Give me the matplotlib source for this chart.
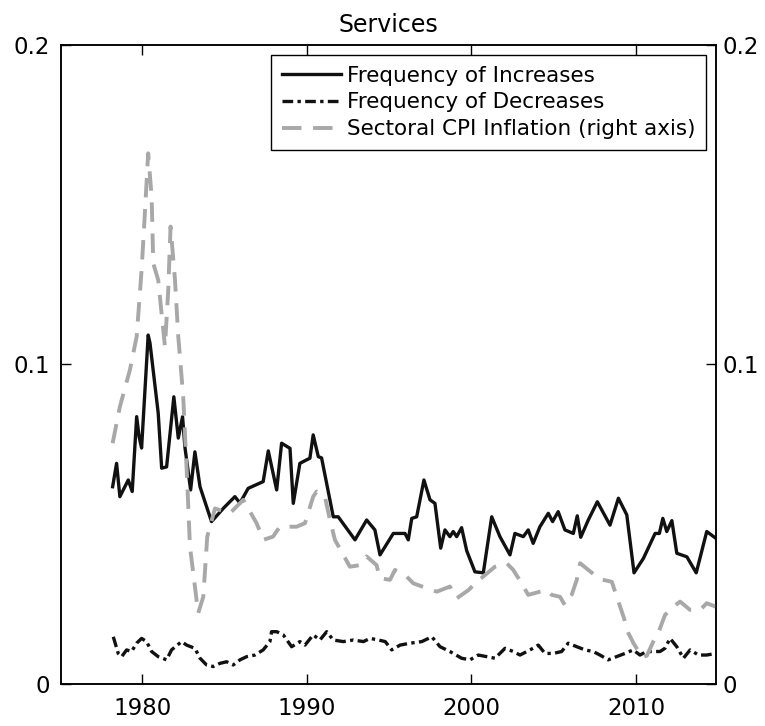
import numpy as np
import matplotlib
matplotlib.use("Agg")
import matplotlib.pyplot as plt

plt.rcParams.update({"font.family": "DejaVu Sans", "font.size": 16})

# frequency of price increases (left axis)
inc_year = [1978.19, 1978.43, 1978.63, 1979.14, 1979.38, 1979.65, 1979.80, 1979.95,
            1980.35, 1980.46, 1980.96, 1981.17, 1981.47, 1981.91, 1982.18, 1982.44,
            1982.58, 1982.93, 1983.19, 1983.50, 1984.20, 1984.91, 1985.62, 1985.93,
            1986.43, 1987.34, 1987.65, 1988.16, 1988.46, 1988.97, 1989.17, 1989.57,
            1989.98, 1990.18, 1990.38, 1990.69, 1990.89, 1991.60, 1991.90, 1992.92,
            1993.63, 1994.13, 1994.44, 1995.25, 1995.96, 1996.16, 1996.37, 1996.67,
            1997.11, 1997.48, 1997.78, 1998.13, 1998.39, 1998.69, 1998.89, 1999.10,
            1999.40, 1999.71, 2000.21, 2000.72, 2001.23, 2001.73, 2002.34, 2002.64,
            2003.15, 2003.45, 2003.75, 2004.16, 2004.67, 2004.93, 2005.27, 2005.68,
            2006.19, 2006.43, 2006.64, 2007.10, 2007.65, 2008.42, 2008.93, 2009.44,
            2009.88, 2010.45, 2011.16, 2011.42, 2011.63, 2011.87, 2012.18, 2012.48,
            2013.09, 2013.66, 2014.30, 2014.85]
inc_val = [0.0618, 0.0691, 0.0587, 0.0639, 0.0603, 0.0837, 0.0774, 0.0739,
           0.1092, 0.1067, 0.0848, 0.0676, 0.0680, 0.0899, 0.0770, 0.0837,
           0.0743, 0.0608, 0.0727, 0.0618, 0.0509, 0.0550, 0.0587, 0.0567,
           0.0613, 0.0634, 0.0730, 0.0608, 0.0754, 0.0738, 0.0566, 0.0691,
           0.0702, 0.0707, 0.0780, 0.0712, 0.0708, 0.0524, 0.0524, 0.0452,
           0.0514, 0.0483, 0.0405, 0.0472, 0.0472, 0.0452, 0.0519, 0.0524,
           0.0639, 0.0577, 0.0566, 0.0426, 0.0483, 0.0462, 0.0478, 0.0462,
           0.0490, 0.0418, 0.0352, 0.0349, 0.0524, 0.0462, 0.0405, 0.0472,
           0.0462, 0.0483, 0.0441, 0.0493, 0.0535, 0.0509, 0.0540, 0.0483,
           0.0472, 0.0527, 0.0460, 0.0514, 0.0571, 0.0498, 0.0582, 0.0530,
           0.0349, 0.0394, 0.0472, 0.0472, 0.0519, 0.0478, 0.0512, 0.0410,
           0.0399, 0.0349, 0.0478, 0.0457]

# frequency of price decreases (left axis)
dec_year = [1978.23, 1978.53, 1978.74, 1979.04, 1979.34, 1979.65, 1979.95, 1980.25,
            1980.56, 1980.96, 1981.47, 1981.77, 1982.38, 1982.69, 1983.19, 1983.50,
            1983.90, 1984.31, 1984.71, 1985.12, 1985.52, 1985.93, 1986.34, 1986.84,
            1987.34, 1987.75, 1987.85, 1988.16, 1988.56, 1989.07, 1989.57, 1989.88,
            1990.38, 1990.79, 1991.20, 1991.60, 1992.21, 1992.82, 1993.43, 1993.84,
            1994.35, 1994.76, 1995.15, 1995.66, 1996.27, 1996.98, 1997.59, 1998.09,
            1998.69, 1999.40, 1999.91, 2000.41, 2000.92, 2001.43, 2002.04, 2002.54,
            2002.95, 2003.56, 2004.06, 2004.47, 2004.97, 2005.48, 2005.88, 2006.40,
            2006.90, 2007.40, 2007.81, 2008.31, 2008.82, 2009.33, 2009.83, 2010.24,
            2010.65, 2011.05, 2011.46, 2011.76, 2012.07, 2012.48, 2012.88, 2013.29,
            2013.80, 2014.30, 2014.85]
dec_val = [0.0149, 0.0097, 0.0087, 0.0108, 0.0103, 0.0129, 0.0144, 0.0134,
           0.0103, 0.0087, 0.0077, 0.0108, 0.0134, 0.0123, 0.0113, 0.0082,
           0.0061, 0.0056, 0.0066, 0.0071, 0.0061, 0.0077, 0.0087, 0.0092,
           0.0108, 0.0134, 0.0165, 0.0165, 0.0155, 0.0118, 0.0134, 0.0123,
           0.0155, 0.0139, 0.0165, 0.0139, 0.0134, 0.0139, 0.0134, 0.0144,
           0.0139, 0.0134, 0.0108, 0.0123, 0.0129, 0.0134, 0.0149, 0.0118,
           0.0103, 0.0082, 0.0077, 0.0092, 0.0087, 0.0082, 0.0113, 0.0103,
           0.0092, 0.0108, 0.0123, 0.0097, 0.0097, 0.0103, 0.0129, 0.0118,
           0.0108, 0.0103, 0.0092, 0.0077, 0.0087, 0.0097, 0.0108, 0.0092,
           0.0103, 0.0103, 0.0103, 0.0113, 0.0144, 0.0118, 0.0082, 0.0108,
           0.0092, 0.0092, 0.0097]

# sectoral CPI inflation (right axis)
cpi_year = [1978.19, 1978.63, 1979.24, 1979.65, 1979.95, 1980.15, 1980.35, 1980.56,
            1980.66, 1980.96, 1981.37, 1981.57, 1981.71, 1981.98, 1982.18, 1982.48,
            1982.72, 1982.89, 1983.09, 1983.39, 1983.70, 1983.94, 1984.41, 1985.32,
            1986.13, 1986.94, 1987.35, 1987.94, 1988.35, 1989.37, 1989.88, 1990.38,
            1990.59, 1991.09, 1991.40, 1991.70, 1992.21, 1992.61, 1993.22, 1993.63,
            1994.23, 1994.44, 1995.05, 1995.35, 1996.06, 1996.47, 1997.28, 1997.89,
            1998.69, 1999.10, 1999.82, 2000.10, 2000.82, 2001.43, 2002.14, 2002.54,
            2003.05, 2003.45, 2004.16, 2004.57, 2004.88, 2005.38, 2005.68, 2006.09,
            2006.40, 2006.60, 2007.10, 2007.81, 2008.53, 2008.83, 2009.24, 2009.54,
            2009.85, 2010.36, 2010.66, 2011.05, 2011.35, 2011.76, 2012.27, 2012.68,
            2013.29, 2013.90, 2014.30, 2014.85]
cpi_val = [0.0754, 0.0868, 0.0983, 0.1087, 0.1295, 0.1473, 0.1660, 0.1524,
           0.1316, 0.1264, 0.1056, 0.1233, 0.1431, 0.1264, 0.1087, 0.0899,
           0.0639, 0.0431, 0.0348, 0.0223, 0.0274, 0.0462, 0.0550, 0.0535,
           0.0577, 0.0504, 0.0452, 0.0462, 0.0493, 0.0493, 0.0504, 0.0587,
           0.0603, 0.0587, 0.0514, 0.0452, 0.0405, 0.0368, 0.0373, 0.0400,
           0.0373, 0.0332, 0.0327, 0.0358, 0.0337, 0.0316, 0.0301, 0.0290,
           0.0306, 0.0269, 0.0295, 0.0310, 0.0342, 0.0368, 0.0379, 0.0358,
           0.0316, 0.0280, 0.0290, 0.0295, 0.0280, 0.0274, 0.0248, 0.0280,
           0.0327, 0.0379, 0.0358, 0.0329, 0.0321, 0.0274, 0.0212, 0.0160,
           0.0129, 0.0085, 0.0090, 0.0134, 0.0160, 0.0217, 0.0243, 0.0259,
           0.0233, 0.0233, 0.0254, 0.0243]

x_ticks = [1980, 1990, 2000, 2010]
y_ticks = [0, 0.1, 0.2]
y_labels = ["0", "0.1", "0.2"]

fig = plt.figure(figsize=(7.65, 7.26), dpi=100)
ax = fig.add_axes([0.0797, 0.0572, 0.8562, 0.8815])
ax2 = ax.twinx()

l1, = ax.plot(inc_year, inc_val, color="#111111", lw=2.4,
              label="Frequency of Increases")
l2, = ax.plot(dec_year, dec_val, color="#111111", lw=2.4,
              dashes=(3.2, 1.3, 1.0, 1.3), label="Frequency of Decreases")
l3, = ax2.plot(cpi_year, cpi_val, color="#a8a8a8", lw=2.8,
               dashes=(5.0, 3.0), label="Sectoral CPI Inflation (right axis)")

ax.set_xlim(1975.05, 2014.86)
ax.set_ylim(0, 0.2)
ax2.set_ylim(0, 0.2)
ax.set_xticks(x_ticks)
ax.set_yticks(y_ticks)
ax.set_yticklabels(y_labels)
ax2.set_yticks(y_ticks)
ax2.set_yticklabels(y_labels)

ax.tick_params(axis="both", direction="in", length=7, width=1, labelsize=16.5,
               top=True, right=False)
ax.tick_params(axis="x", pad=9)
ax.tick_params(axis="y", pad=8)
ax2.tick_params(axis="y", direction="in", length=7, width=1, labelsize=16.5, pad=5)
for a in (ax, ax2):
    for sp in a.spines.values():
        sp.set_linewidth(1.1)

ax.set_title("Services", fontsize=17, pad=9)

leg = ax2.legend(handles=[l1, l2, l3], loc="upper right",
                 bbox_to_anchor=(0.985, 0.984), borderaxespad=0,
                 fontsize=15.5, handlelength=2.75, handletextpad=0.28,
                 labelspacing=0.32, borderpad=0.5, fancybox=False,
                 framealpha=1, edgecolor="black")
leg.get_frame().set_linewidth(1.0)

fig.savefig("out.png", dpi=100)
